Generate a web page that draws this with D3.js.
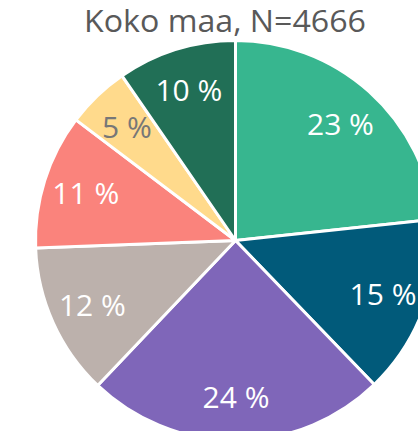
<!DOCTYPE html>
<html>
<head>
<meta charset="utf-8">
<script src="https://cdn.jsdelivr.net/npm/d3@7.9.0/dist/d3.min.js"></script>
<style>
  body { margin: 0; background: #fff; }
  svg { display: block; font-family: "Open Sans", Lato, sans-serif; }
</style>
</head>
<body>
<svg id="chart" width="418" height="431"></svg>
<script>
// shares (clockwise from 12 o'clock)
const labels = ["23 %", "15 %", "24 %", "12 %", "11 %", "5 %", "10 %"];
const shares = [23.3, 14.5, 24.3, 12.3, 10.9, 5.1, 9.6];
const colors = ["#37B68F", "#015A7A", "#7F66B9", "#BCB1AC", "#FA837C", "#FFDA8C", "#216F56"];
const labelColors = ["#fff", "#fff", "#fff", "#fff", "#fff", "#777", "#fff"];
const title = "Koko maa, N=4666";

const svg = d3.select("#chart");
const cx = 235.5, cy = 240.5, r = 200;

svg.append("text")
    .attr("x", 225)
    .attr("y", 32)
    .attr("text-anchor", "middle")
    .attr("fill", "#595959")
    .attr("textLength", 282)
    .attr("lengthAdjust", "spacingAndGlyphs")
    .style("font-size", "31px")
    .text(title);

const data = shares.map((v, i) => ({ value: v, label: labels[i], i }));
const pie = d3.pie().sort(null).value(d => d.value);
const arcs = pie(data);
const arc = d3.arc().innerRadius(0).outerRadius(r);
const labelArc = d3.arc().innerRadius(157).outerRadius(157);

const g = svg.append("g").attr("transform", `translate(${cx},${cy})`);

g.selectAll("path")
    .data(arcs)
    .join("path")
    .attr("d", arc)
    .attr("fill", d => colors[d.data.i])
    .attr("stroke", "#fff")
    .attr("stroke-width", 3)
    .attr("stroke-linejoin", "round");

g.selectAll("text.lbl")
    .data(arcs)
    .join("text")
    .attr("class", "lbl")
    .attr("transform", d => `translate(${labelArc.centroid(d)})`)
    .attr("text-anchor", "middle")
    .attr("dy", "0.36em")
    .attr("fill", d => labelColors[d.data.i])
    .style("font-size", "30px")
    .text(d => d.data.label);
</script>
</body>
</html>
